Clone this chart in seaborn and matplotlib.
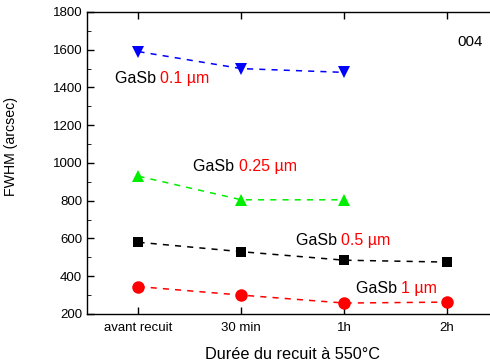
import pandas as pd
import matplotlib
matplotlib.use('Agg')
import matplotlib.pyplot as plt
import seaborn as sns

# Données (FWHM en arcsec)
durees = ["avant recuit", "30 min", "1h", "2h"]
fwhm_01 = [1590, 1500, 1480]
fwhm_025 = [930, 805, 805]
fwhm_05 = [580, 530, 485, 475]
fwhm_1 = [345, 300, 258, 263]

series = [
    ("0.1 µm", fwhm_01, "blue", "v", (-0.23, 1450)),
    ("0.25 µm", fwhm_025, "#00ee00", "^", (0.53, 984)),
    ("0.5 µm", fwhm_05, "black", "s", (1.53, 592)),
    ("1 µm", fwhm_1, "red", "o", (2.11, 337)),
]

sns.set_style("ticks", {"axes.edgecolor": "black", "text.color": "black",
                        "xtick.color": "black", "ytick.color": "black",
                        "axes.labelcolor": "black"})
plt.rcParams['font.family'] = ['Liberation Sans', 'DejaVu Sans']

fig = plt.figure(figsize=(4.9, 3.63), dpi=100)
ax = fig.add_axes([0.1776, 0.135, 0.84, 0.832])

for nom, valeurs, couleur, marqueur, pos in series:
    df = pd.DataFrame({"x": range(len(valeurs)), "y": valeurs})
    sns.lineplot(data=df, x="x", y="y", ax=ax, color=couleur, marker=marqueur,
                 markersize=9 if marqueur != "s" else 7.5, markeredgewidth=0,
                 linestyle=(0, (4, 4)), linewidth=1.1)
    t = ax.text(pos[0], pos[1], "GaSb ", color="black", fontsize=11.5, va="center")
    ax.annotate(nom, xy=(1, 0), xycoords=t, va="bottom", ha="left",
                color="red", fontsize=11.5)

ax.text(3.1, 1641, "004", fontsize=10.8, va="center")

ax.set_xlim(-0.5, 3.5)
ax.set_ylim(200, 1800)
ax.set_xticks(range(len(durees)))
ax.set_xticklabels(durees)
ax.set_yticks(range(200, 1801, 200))
ax.set_yticks(range(300, 1800, 200), minor=True)
ax.tick_params(direction="in", labelsize=9.5, top=True, right=True, length=5, width=1)
ax.tick_params(which="minor", direction="in", length=3, right=True)
ax.tick_params(axis="x", pad=6)
for s in ax.spines.values():
    s.set_linewidth(1)
ax.set_xlabel("Durée du recuit à 550°C", fontsize=11.7, labelpad=9)
ax.set_ylabel("FWHM (arcsec)", fontsize=10.2)
ax.yaxis.set_label_coords(-0.168, 0.556)

fig.savefig("out.png", dpi=100)
